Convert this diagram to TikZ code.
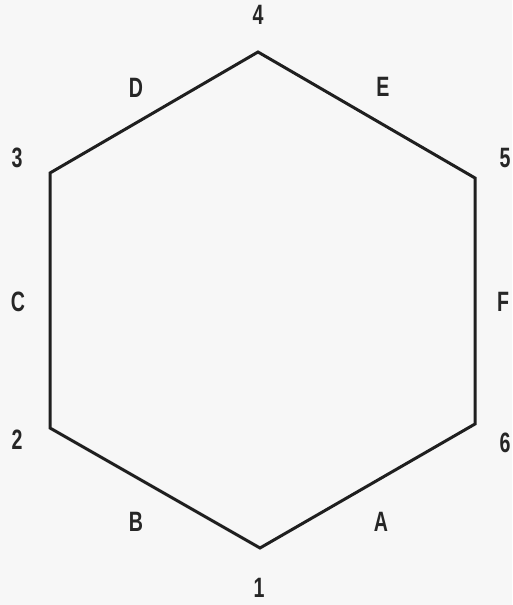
\documentclass[tikz,border=0pt]{standalone}
\usepackage{fontspec}
\newfontfamily\labfont[FakeStretch=0.7]{Liberation Sans}
\begin{document}
\begin{tikzpicture}[x=1pt,y=1pt,
  lab/.style={font=\labfont\bfseries\fontsize{28}{28}\selectfont, inner sep=0pt, text=black!85},
  edge/.style={line width=3pt, black!88, line join=miter}]
\useasboundingbox (0,0) rectangle (512,605);
\fill[white!97!black] (0,0) rectangle (512,605);
\coordinate (v4) at (258,553);
\coordinate (v5) at (475,427);
\coordinate (v6) at (475,181);
\coordinate (v1) at (260,57);
\coordinate (v2) at (50,177);
\coordinate (v3) at (50,432);
\draw[edge] (v1) -- (v6) -- (v5) -- (v4) -- (v3) -- (v2) -- cycle;
\node[lab] (n4) at (258,590) {4};
\node[lab] (n5) at (505,447) {5};
\node[lab] (n6) at (505,162) {6};
\node[lab] (n1) at (259,17) {1};
\node[lab] (n2) at (17,165) {2};
\node[lab] (n3) at (17,447) {3};
\node[lab] (nD) at (136,517) {D};
\node[lab] (nE) at (383,518) {E};
\node[lab] (nF) at (503,303) {F};
\node[lab] (nA) at (381,83) {A};
\node[lab] (nB) at (136,83) {B};
\node[lab] (nC) at (18,303) {C};
\end{tikzpicture}
\end{document}
